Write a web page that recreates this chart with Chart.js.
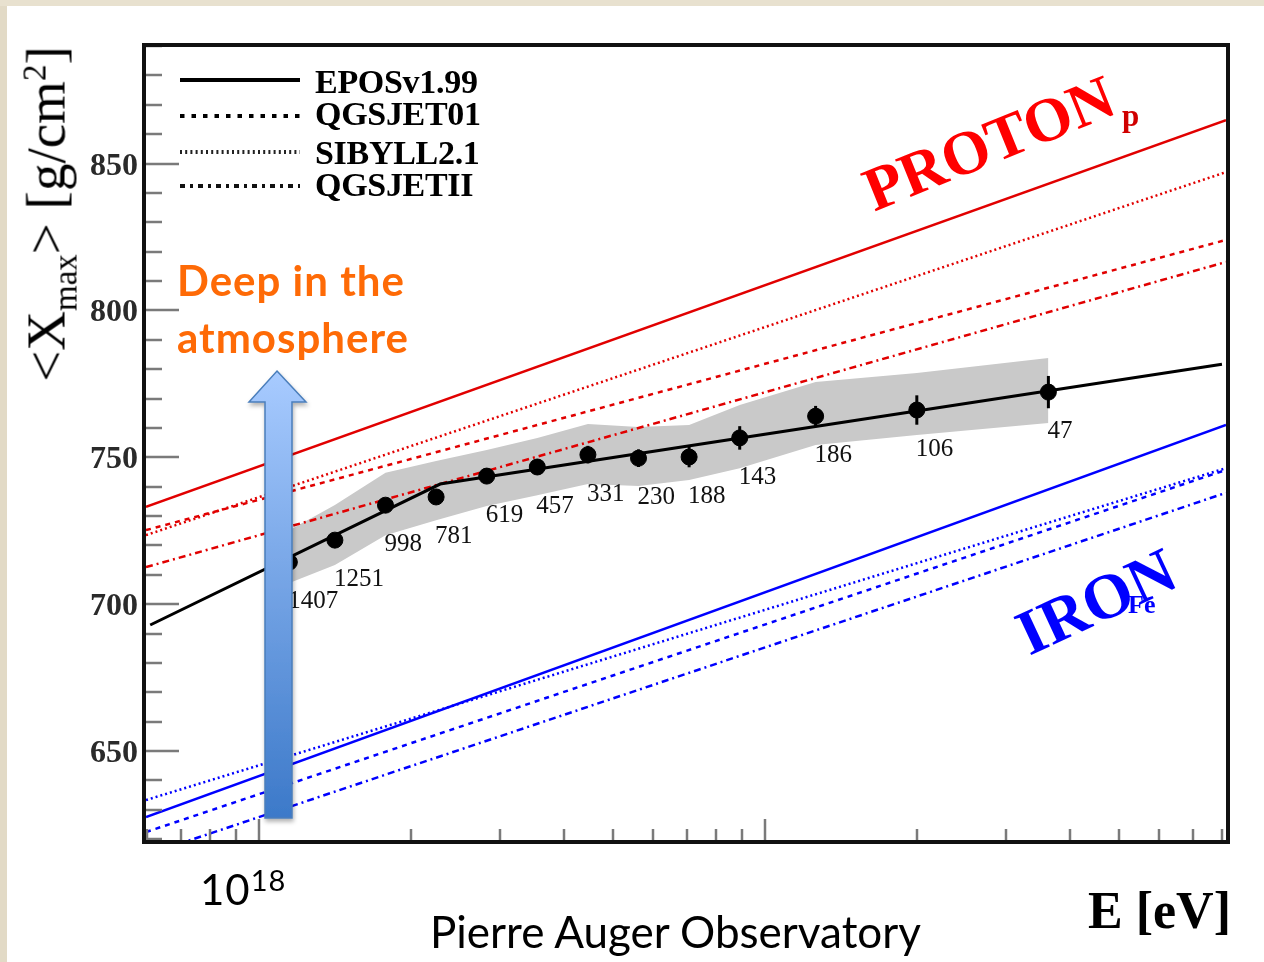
<!DOCTYPE html>
<html>
<head>
<meta charset="utf-8">
<script src="https://cdn.jsdelivr.net/npm/chart.js@4.4.1/dist/chart.umd.min.js"></script>
<style>
  html, body { margin: 0; padding: 0; }
  body { width: 1264px; height: 962px; position: relative; overflow: hidden; background: #fff; }
  #wrap { position: absolute; left: 0; top: 0; width: 1264px; height: 962px; }
  #chart { position: absolute; left: 0; top: 0; }
  .strip { position: absolute; background: #e2dac6; }
  .txt { position: absolute; white-space: nowrap; line-height: 1; font-family: 'Liberation Serif', 'Times New Roman', serif; }
  .ov { position: absolute; }
  .ytick { font-size: 32px; font-weight: bold; color: #2a2a2a; transform: translate(-100%, -50%); }
  .cnt { font-size: 25px; color: #111; transform: translateY(-50%); }
  .leg { font-size: 34px; font-weight: bold; color: #000; left: 315px; transform: translateY(-50%); letter-spacing: -0.3px; }
  .sans { font-family: Lato, 'Open Sans', sans-serif; }
  sub, sup { font-size: 60%; line-height: 0; }
</style>
</head>
<body>
<div class="strip" style="left:0;top:0;width:7px;height:962px"></div>
<div class="strip" style="left:0;top:0;width:1264px;height:6px;background:#e8e1cf"></div>
<div id="wrap">
  <canvas id="chart" width="1264" height="962"></canvas>
</div>
<script>
// energy bins, log10(E/eV)
const binLogE = [18.06, 18.15, 18.25, 18.35, 18.45, 18.55, 18.65, 18.75, 18.85, 18.95, 19.1, 19.3, 19.56];
// <Xmax> [g/cm2]
const xmaxMean = [714.3, 721.8, 733.7, 736.5, 743.6, 746.7, 750.9, 749.7, 750.1, 756.6, 764.0, 766.1, 772.2];
const statErr = [1.5, 1.5, 2, 2, 2.5, 2.5, 3, 3, 3.5, 4, 3.5, 5, 5.5];
const sysUpper = [725.2, 733.8, 744.7, 748.7, 752.5, 756.6, 761.3, 760.3, 761.0, 767.8, 775.6, 778.7, 783.8];
const sysLower = [707.2, 713.3, 723.5, 728.6, 733.4, 737.1, 740.9, 740.2, 742.3, 746.3, 754.2, 757.6, 761.7];
const nEvents = [1407, 1251, 998, 781, 619, 457, 331, 230, 188, 143, 186, 106, 47];

// broken line fit
const fitLogE = [17.785, 18.358, 19.903];
const fitXmax = [692.9, 740.9, 781.7];

// model predictions at the plot edges
const edgeLogE = [17.7767, 19.911];
const protonEPOS = [733.1, 864.8];
const protonSIBYLL = [723.5, 847.1];
const protonQGSJET01 = [725.2, 824.0];
const protonQGSJETII = [712.6, 816.5];
const ironEPOS = [627.5, 761.0];
const ironSIBYLL = [633.3, 746.3];
const ironQGSJET01 = [622.4, 745.7];
const ironQGSJETII = [614.6, 737.9];

const yTickLabels = [650, 700, 750, 800, 850];

const pts = (logE, vals) => logE.map((l, i) => ({ x: Math.pow(10, l), y: vals[i] }));

const RED = 'rgb(225,0,0)';
const BLUE = 'rgb(0,0,255)';

function model(vals, color, dash) {
    return {
        data: pts(edgeLogE, vals),
        borderColor: color,
        borderWidth: 2.5,
        borderDash: dash,
        pointRadius: 0,
        fill: false,
        order: 2
    };
}

// vertical stat. error bars
const errorBars = {
    id: 'errorBars',
    afterDatasetsDraw(chart) {
        const { ctx, scales: { x, y } } = chart;
        ctx.save();
        ctx.strokeStyle = '#000';
        ctx.lineWidth = 3;
        binLogE.forEach((l, i) => {
            const px = x.getPixelForValue(Math.pow(10, l));
            ctx.beginPath();
            ctx.moveTo(px, y.getPixelForValue(xmaxMean[i] - statErr[i]));
            ctx.lineTo(px, y.getPixelForValue(xmaxMean[i] + statErr[i]));
            ctx.stroke();
        });
        ctx.restore();
    }
};

// ROOT style frame with inward ticks
const frameTicks = {
    id: 'frameTicks',
    afterDraw(chart) {
        const { ctx, chartArea: a, scales: { x, y } } = chart;
        ctx.save();
        ctx.strokeStyle = '#7a7a7a';
        ctx.lineWidth = 2.5;
        for (let v = 620; v <= 890; v += 10) {
            const py = Math.round(y.getPixelForValue(v));
            const len = v % 50 === 0 ? 33 : 16;
            ctx.beginPath();
            ctx.moveTo(a.left, py);
            ctx.lineTo(a.left + len, py);
            ctx.stroke();
        }
        for (let d = 17; d <= 19; d++) {
            for (let m = 1; m < 10; m++) {
                const e = m * Math.pow(10, d);
                if (e < x.min || e > x.max) continue;
                const px = Math.round(x.getPixelForValue(e));
                const len = m === 1 ? 21 : 11;
                ctx.beginPath();
                ctx.moveTo(px, a.bottom);
                ctx.lineTo(px, a.bottom - len);
                ctx.stroke();
            }
        }
        ctx.strokeStyle = '#111';
        ctx.lineWidth = 4;
        ctx.strokeRect(a.left - 2, a.top - 2, a.right - a.left + 4, a.bottom - a.top + 4);
        ctx.restore();
    }
};

const chart = new Chart(document.getElementById('chart'), {
    type: 'line',
    data: {
        datasets: [
            {
                data: pts(binLogE, xmaxMean),
                showLine: false,
                pointRadius: 8,
                pointBackgroundColor: '#000',
                pointBorderColor: '#000',
                order: 0
            },
            {
                data: pts(fitLogE, fitXmax),
                borderColor: '#000',
                borderWidth: 3,
                pointRadius: 0,
                fill: false,
                order: 1
            },
            model(protonEPOS, RED, []),
            model(protonSIBYLL, RED, [2, 3]),
            model(protonQGSJET01, RED, [5, 5]),
            model(protonQGSJETII, RED, [7, 4, 2, 4]),
            model(ironEPOS, BLUE, []),
            model(ironSIBYLL, BLUE, [2, 3]),
            model(ironQGSJET01, BLUE, [5, 5]),
            model(ironQGSJETII, BLUE, [7, 4, 2, 4]),
            {
                data: pts(binLogE, sysUpper),
                borderWidth: 0,
                pointRadius: 0,
                backgroundColor: '#c9c9c9',
                fill: '+1',
                order: 5
            },
            {
                data: pts(binLogE, sysLower),
                borderWidth: 0,
                pointRadius: 0,
                fill: false,
                order: 5
            }
        ]
    },
    options: {
        responsive: false,
        animation: false,
        layout: { padding: { left: 146, top: 47, right: 38, bottom: 122 } },
        scales: {
            x: { type: 'logarithmic', min: Math.pow(10, 17.7767), max: Math.pow(10, 19.911), display: false },
            y: { type: 'linear', min: 619.7, max: 889.7, display: false }
        },
        plugins: {
            legend: { display: false },
            tooltip: { enabled: false }
        }
    },
    plugins: [errorBars, frameTicks]
});

// text placed from the chart scales
const wrap = document.getElementById('wrap');
const xs = chart.scales.x, ys = chart.scales.y;
function addText(cls, html, left, top) {
    const d = document.createElement('div');
    d.className = 'txt ' + cls;
    d.innerHTML = html;
    d.style.left = left + 'px';
    d.style.top = top + 'px';
    wrap.appendChild(d);
    return d;
}
yTickLabels.forEach(v => addText('ytick', v, 138, ys.getPixelForValue(v)));
nEvents.forEach((n, i) => {
    addText('cnt', n, xs.getPixelForValue(Math.pow(10, binLogE[i])) - 1, ys.getPixelForValue(xmaxMean[i]) + 37);
});
</script>

<!-- legend -->
<svg class="ov" style="left:178px;top:70px" width="126" height="126">
  <line x1="2" y1="10" x2="122" y2="10" stroke="#000" stroke-width="4"/>
  <line x1="2" y1="46" x2="122" y2="46" stroke="#000" stroke-width="4" stroke-dasharray="4.5 7"/>
  <line x1="2" y1="82" x2="122" y2="82" stroke="#222" stroke-width="4" stroke-dasharray="2 3.2"/>
  <line x1="2" y1="116" x2="122" y2="116" stroke="#111" stroke-width="4" stroke-dasharray="5 5 3 5"/>
</svg>
<div class="txt leg" style="top:82px">EPOSv1.99</div>
<div class="txt leg" style="top:114px">QGSJET01</div>
<div class="txt leg" style="top:153px">SIBYLL2.1</div>
<div class="txt leg" style="top:185px">QGSJETII</div>

<!-- y axis title -->
<div class="txt" style="left:46px;top:214px;font-size:55px;color:#000;transform:translate(-50%,-50%) rotate(-90deg);">&lt;X<sub>max</sub>&gt; [g/cm<sup>2</sup>]</div>

<!-- labels -->
<div class="txt" style="left:878px;top:159px;font-size:62px;font-weight:bold;color:#ff0000;transform-origin:0 100%;transform:rotate(-22deg);">PROTON</div>
<div class="txt" style="left:1122px;top:100px;font-size:31px;font-weight:bold;color:#d00000;">p</div>
<div class="txt" style="left:1034px;top:602px;font-size:64px;font-weight:bold;color:#0000ff;transform-origin:0 100%;transform:rotate(-25deg);">IRON</div>
<div class="txt" style="left:1128px;top:592px;font-size:26px;font-weight:bold;color:#0000ff;">Fe</div>

<div class="txt sans" style="left:177px;top:259px;font-size:42px;font-weight:bold;letter-spacing:1px;color:#fe6a06;">Deep in the</div>
<div class="txt sans" style="left:177px;top:316px;font-size:42px;font-weight:bold;letter-spacing:1px;color:#fe6a06;">atmosphere</div>

<!-- arrow -->
<svg class="ov" style="left:240px;top:362px" width="80" height="470">
  <defs>
    <linearGradient id="ag" x1="0" y1="0" x2="0" y2="1">
      <stop offset="0" stop-color="#a8cbff"/>
      <stop offset="1" stop-color="#3c79c9"/>
    </linearGradient>
    <filter id="sh" x="-30%" y="-10%" width="160%" height="130%">
      <feDropShadow dx="1" dy="3" stdDeviation="2" flood-color="#000" flood-opacity="0.3"/>
    </filter>
  </defs>
  <path d="M37 9 L66 40 L52 40 L52 456 L25 456 L25 40 L9 40 Z" fill="url(#ag)" stroke="#4a7ebb" stroke-width="1.5" filter="url(#sh)"/>
</svg>

<!-- axis texts -->
<div class="txt sans" style="left:200px;top:868px;font-size:42px;letter-spacing:1px;color:#000;">10<span style="font-size:29px;position:relative;top:-14px;">18</span></div>
<div class="txt sans" style="left:430px;top:909px;font-size:44px;color:#000;">Pierre Auger Observatory</div>
<div class="txt" style="left:1088px;top:885px;font-size:52px;font-weight:bold;color:#000;">E [eV]</div>
</body>
</html>
